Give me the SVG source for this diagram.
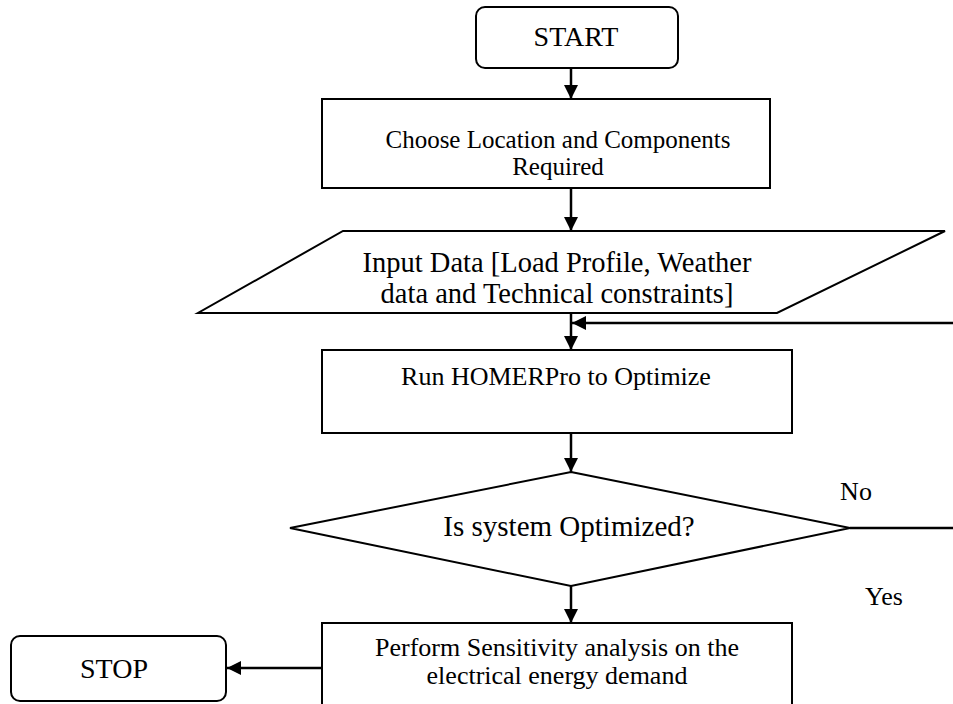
<svg xmlns="http://www.w3.org/2000/svg" width="953" height="704" viewBox="0 0 953 704">
  <style>
    .shape { fill: #ffffff; stroke: #000000; stroke-width: 2; }
    .edge { fill: none; stroke: #000000; stroke-width: 2.5; }
    .label { font-family: "Liberation Serif", "Times New Roman", serif; fill: #000000; text-anchor: middle; }
  </style>
  <defs>
    <marker id="arrow" markerUnits="userSpaceOnUse" markerWidth="14" markerHeight="14" viewBox="0 0 14 14" refX="14" refY="7" orient="auto">
      <path d="M0,0 L14,7 L0,14 z" fill="#000000"/>
    </marker>
  </defs>

  <rect width="953" height="704" fill="#ffffff"/>

  <!-- connectors -->
  <g id="connectors">
    <path class="edge" d="M571,68 V99" marker-end="url(#arrow)"/>
    <path class="edge" d="M571,188 V231" marker-end="url(#arrow)"/>
    <path class="edge" d="M571,313 V350" marker-end="url(#arrow)"/>
    <path class="edge" d="M953,323 H572" marker-end="url(#arrow)"/>
    <path class="edge" d="M571,433 V472" marker-end="url(#arrow)"/>
    <path class="edge" d="M850,528 H953"/>
    <path class="edge" d="M571,586 V623" marker-end="url(#arrow)"/>
    <path class="edge" d="M322,668 H227" marker-end="url(#arrow)"/>
    <text class="label" x="856" y="500" font-size="26">No</text>
    <text class="label" x="884" y="605" font-size="26">Yes</text>
  </g>

  <g id="start">
    <rect class="shape" x="476" y="7" width="202" height="61" rx="9"/>
    <text class="label" x="576" y="46" font-size="28">START</text>
  </g>

  <g id="choose">
    <rect class="shape" x="322" y="99" width="448" height="89"/>
    <text class="label" x="558" y="148" font-size="25">Choose Location and Components</text>
    <text class="label" x="558" y="175" font-size="25">Required</text>
  </g>

  <g id="input">
    <polygon class="shape" points="343,231 945,231 777,313 198,313"/>
    <text class="label" x="557" y="272" font-size="28.5">Input Data [Load Profile, Weather</text>
    <text class="label" x="557" y="303" font-size="28.5">data and Technical constraints]</text>
  </g>

  <g id="run">
    <rect class="shape" x="322" y="350" width="470" height="83"/>
    <text class="label" x="556" y="385" font-size="26">Run HOMERPro to Optimize</text>
  </g>

  <g id="decision">
    <polygon class="shape" points="571,472 850,528 571,586 290,528"/>
    <text class="label" x="569" y="536" font-size="29">Is system Optimized?</text>
  </g>

  <g id="sensitivity">
    <rect class="shape" x="322" y="623" width="470" height="90"/>
    <text class="label" x="557" y="656" font-size="26">Perform Sensitivity analysis on the</text>
    <text class="label" x="557" y="684" font-size="26">electrical energy demand</text>
  </g>

  <g id="stop">
    <rect class="shape" x="11" y="636" width="215" height="65" rx="9"/>
    <text class="label" x="114" y="678" font-size="28">STOP</text>
  </g>
</svg>
